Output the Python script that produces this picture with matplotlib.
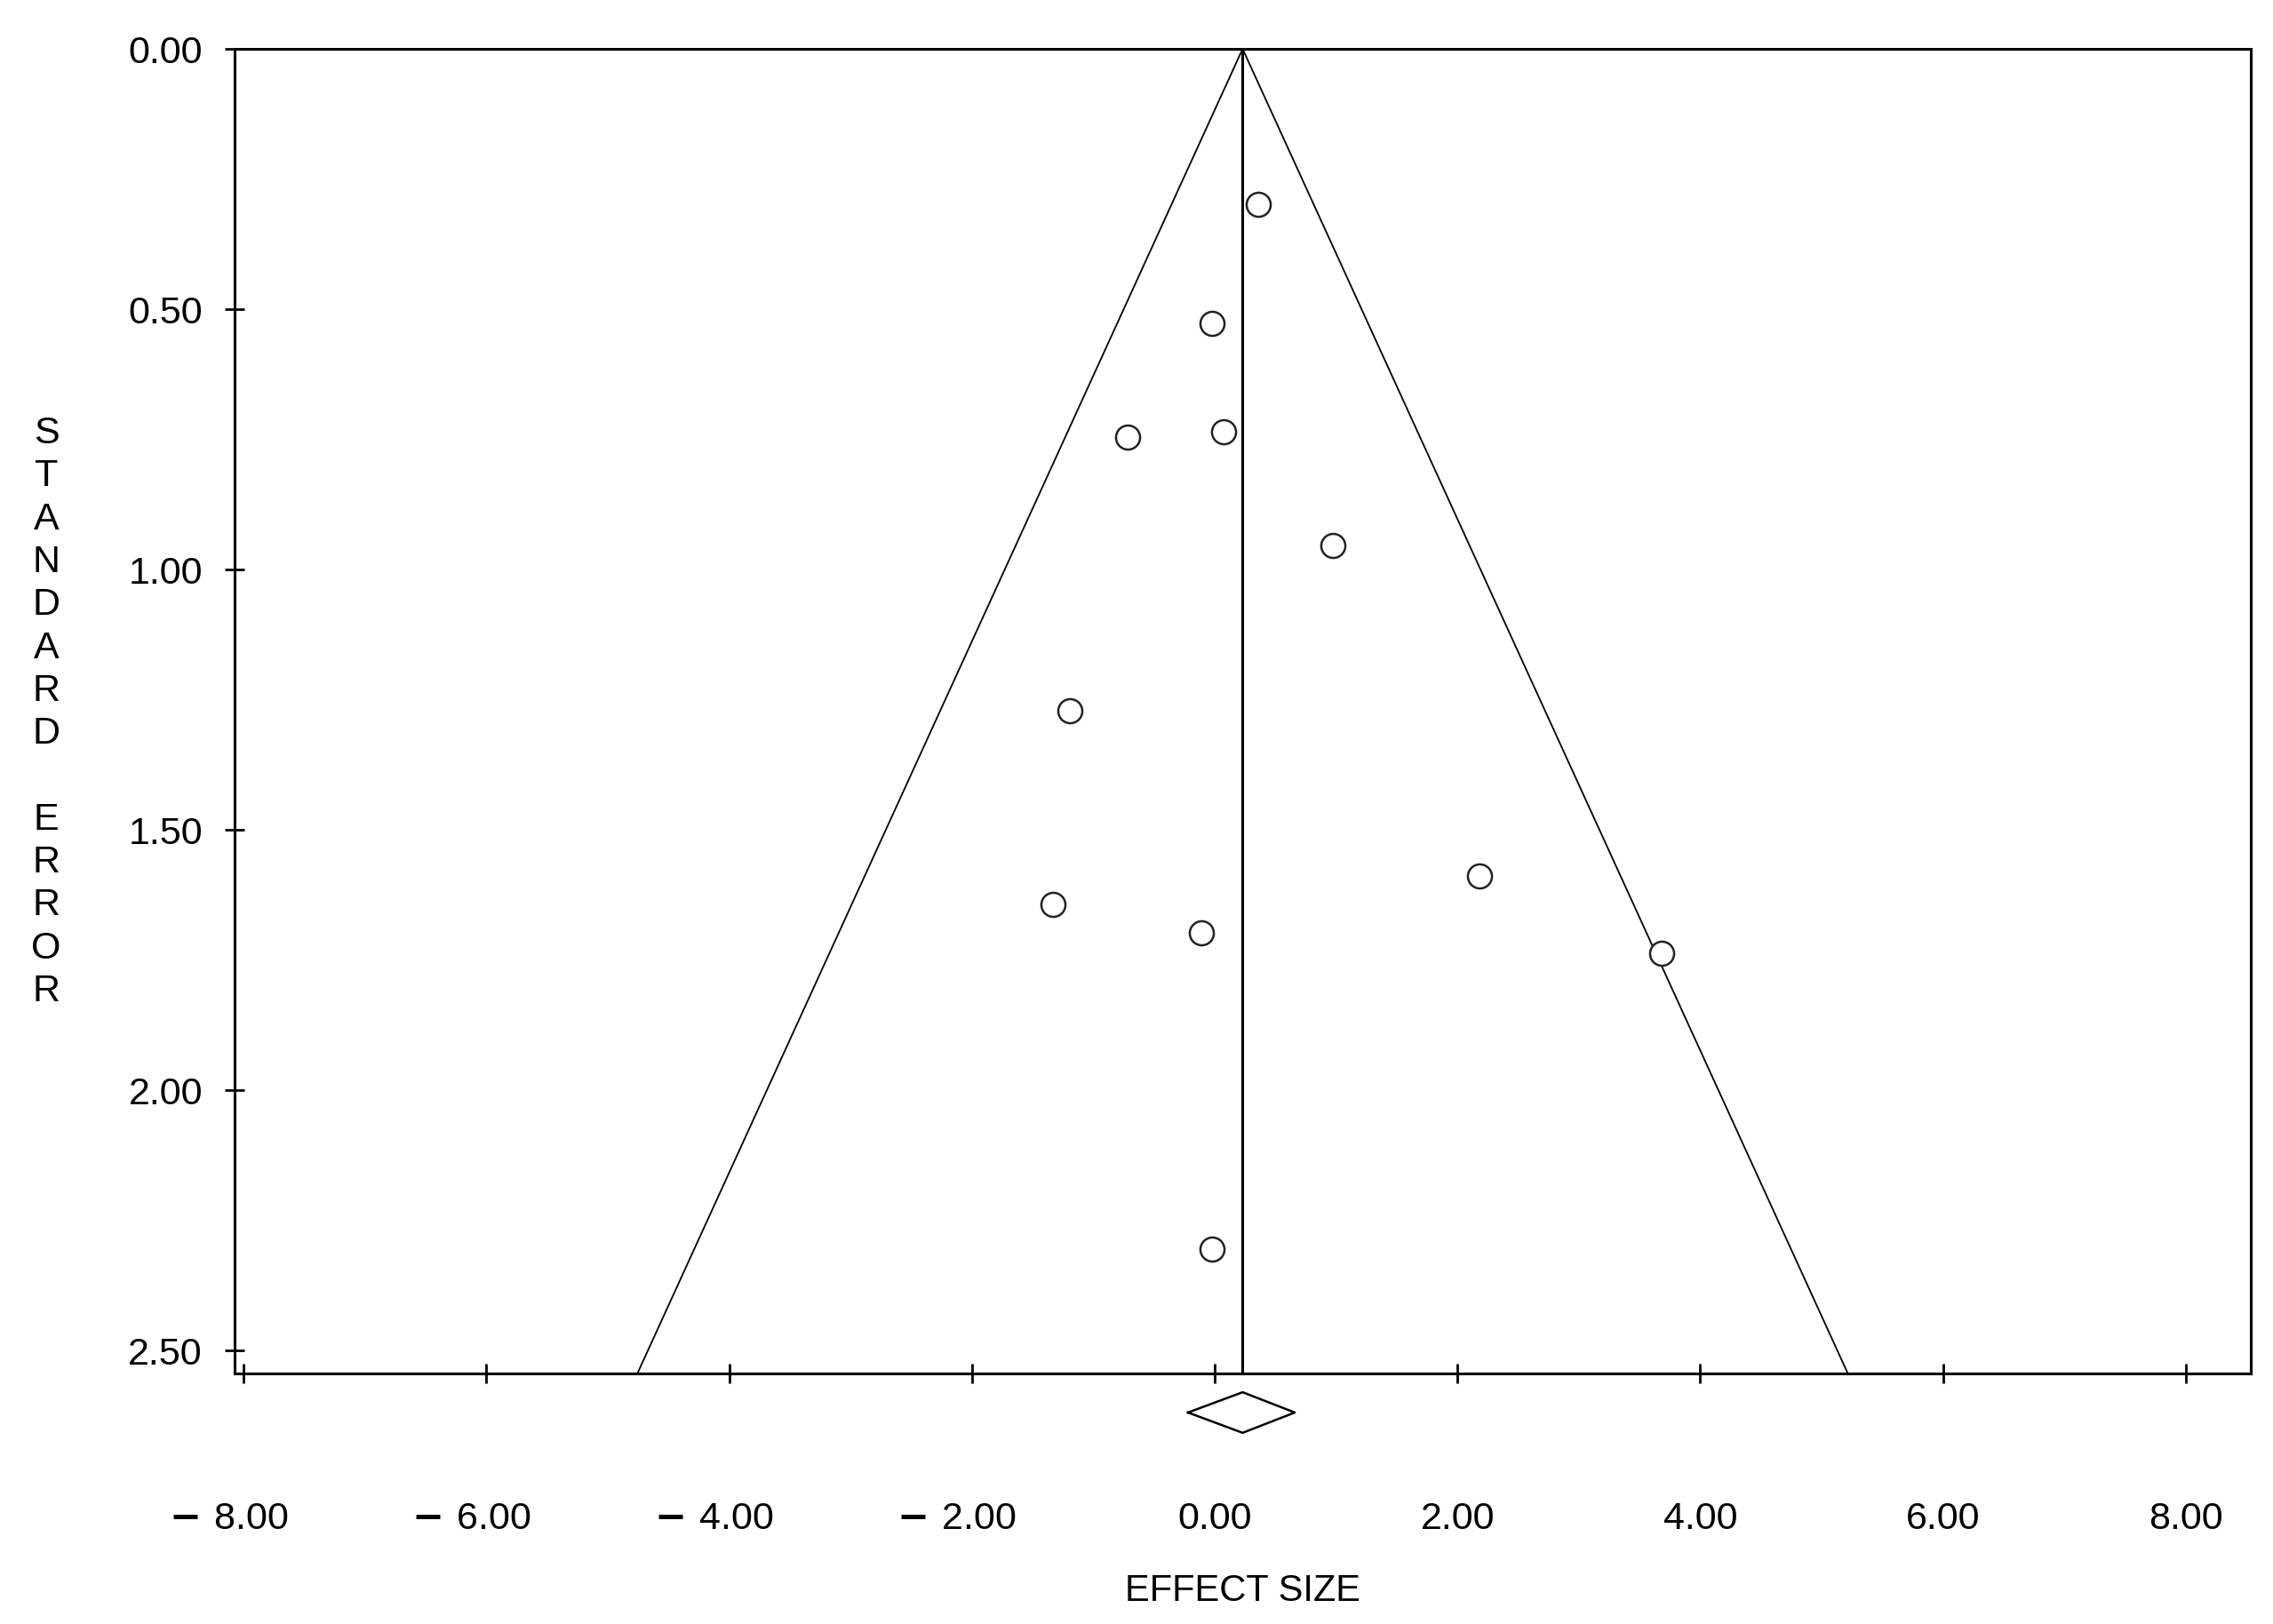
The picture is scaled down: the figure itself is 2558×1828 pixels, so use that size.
import matplotlib
matplotlib.use("Agg")
import matplotlib.pyplot as plt
from matplotlib.transforms import ScaledTranslation
import numpy as np

plt.rcParams['font.family'] = ['Liberation Sans', 'DejaVu Sans']

# study effect sizes and standard errors
effect = [0.36, -0.02, -0.72, 0.075, 0.97, -1.19, 2.18, -1.33, -0.11, 3.68, -0.02]
se = [0.299, 0.527, 0.746, 0.735, 0.954, 1.271, 1.589, 1.643, 1.698, 1.737, 2.305]

# pooled estimate and its CI
pooled = 0.23
ci_low, ci_high = -0.22, 0.66

xticks = [-8, -6, -4, -2, 0, 2, 4, 6, 8]
yticks = [0.0, 0.5, 1.0, 1.5, 2.0, 2.5]

fig = plt.figure(figsize=(25.58, 18.28), dpi=100)
ax = fig.add_axes([264 / 2558, 1 - 1546 / 1828, (2533 - 264) / 2558, (1546 - 55) / 1828])

ymax = 2.544
ax.set_xlim(-8.075, 8.536)
ax.set_ylim(ymax, 0)

# funnel
ax.plot([pooled - 1.96 * ymax, pooled, pooled + 1.96 * ymax], [ymax, 0, ymax],
        color='black', lw=1.3)
ax.plot([pooled, pooled], [0, ymax], color='black', lw=2.2)

ax.plot(effect, se, 'o', ms=19.5, mfc='white', mec='#222222', mew=1.8, clip_on=False)

# diamond for pooled estimate, below the axis
dy = 0.039
yd = 2.619
ax.plot([ci_low, pooled, ci_high, pooled, ci_low], [yd, yd - dy, yd, yd + dy, yd],
        color='black', lw=1.8, clip_on=False)

for s in ax.spines.values():
    s.set_linewidth(2.2)

ax.set_xticks(xticks)
ax.set_yticks(yticks)


def xfmt(v):
    if v < 0:
        return r"$\mathbf{-}\hspace{0.35}$" + f"{abs(v):.2f}"
    return f"{v:.2f}"


ax.set_xticklabels([xfmt(v) for v in xticks])
ax.set_yticklabels([f"{v:.2f}" for v in yticks])
ax.tick_params(axis='both', direction='inout', length=16, width=2, labelsize=31)
ax.tick_params(axis='y', pad=18)
ax.tick_params(axis='x', pad=96)

# heavy minus sticks out to the left, digits stay centred on the tick
for lab, v in zip(ax.get_xticklabels(), xticks):
    if v < 0:
        lab.set_transform(lab.get_transform() + ScaledTranslation(-0.17, 0, fig.dpi_scale_trans))

fig.text((264 + 2533) / 2 / 2558, 1 - 1791 / 1828, "EFFECT SIZE", ha='center', va='center', fontsize=30)

# stacked y label
label = "STANDARD ERROR"
for i, ch in enumerate(label):
    fig.text(52 / 2558, 1 - (488 + i * 48.3) / 1828, ch, ha='center', va='center', fontsize=31)

fig.savefig("out.png", dpi=100)
